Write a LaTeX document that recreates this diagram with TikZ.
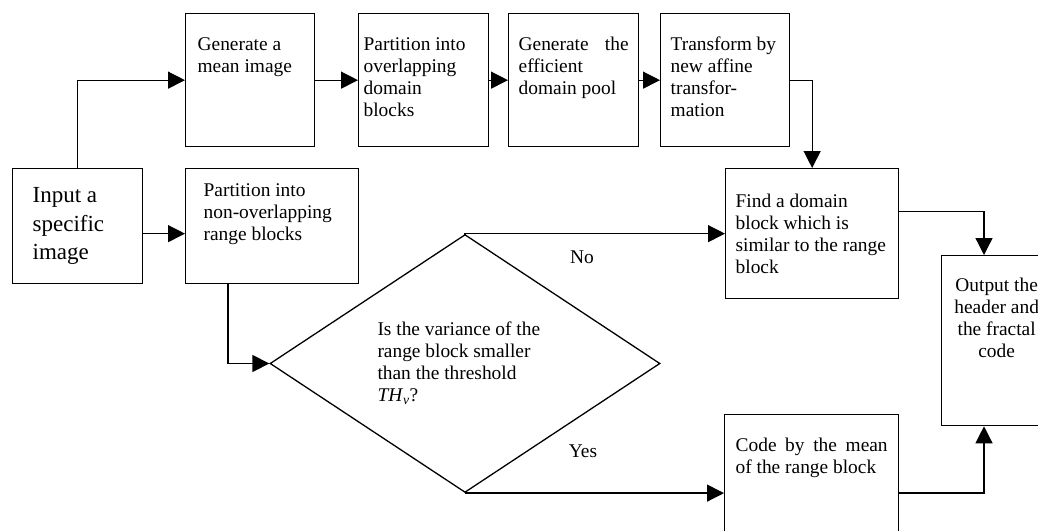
\documentclass[tikz,border=0pt]{standalone}
\usepackage{fontspec}
\setmainfont{Liberation Serif}
\usetikzlibrary{arrows.meta,shapes.geometric}
\newcommand{\boxtxt}[5]{\parbox[t][#2pt][t]{#1pt}{\vspace*{#3pt}\leftskip=#4pt\rightskip=#4pt #5}}
\tikzset{blk/.style={draw, anchor=north west, inner sep=0pt, align=left}}
\begin{document}
\begin{tikzpicture}[x=1pt, y=-1pt, font={\fontsize{19.4}{22}\selectfont}, line width=1.3pt, line join=miter, >={Triangle[length=17pt,width=17pt]}]
\useasboundingbox (0,0) rectangle (1038,530);
\clip (0,0) rectangle (1038,530);
\node[blk] (input) at (12,168) {\boxtxt{130}{115}{19}{20}{\fontsize{23}{28.5}\selectfont Input a\\specific\\image}};
\node[blk] (meanimg) at (185,13) {\boxtxt{129}{133}{24}{12}{Generate a\\mean image}};
\node[blk] (domblk) at (358,13) {\boxtxt{130}{133}{24}{5}{Partition into\\overlapping\\domain\\blocks}};
\node[blk] (pool) at (508,13) {\boxtxt{130}{133}{23}{10}{Generate\hfill the\\efficient\\domain pool}};
\node[blk] (affine) at (660,13) {\boxtxt{129}{133}{23}{10}{Transform by\\new affine\\transfor-\\mation}};
\node[blk] (rngblk) at (185,168) {\boxtxt{173}{115}{15}{18}{Partition into\\non-overlapping\\range blocks}};
\node[blk] (find) at (725,168) {\boxtxt{173}{130}{25}{10}{Find a domain\\block which is\\similar to the range\\block}};
\node[blk] (output) at (941,255) {\boxtxt{110}{170}{22}{0}{\centering Output the\\header and\\the fractal\\code}};
\node[blk] (code) at (724,414) {\boxtxt{174}{140}{23}{11}{Code\hfill by\hfill the\hfill mean\\of the range block}};
\node[draw, diamond, minimum width=390pt, minimum height=215pt, inner sep=0pt] (test) at (465,363.5)
{\parbox{175pt}{Is the variance of the\\range block smaller\\than the threshold\\\textit{TH}\textsubscript{\textit{v}}?}};
\node (no) at (582,257) {No};
\node (yes) at (583,451) {Yes};
\draw[->] (input.north) |- (meanimg.west);
\draw[->] (meanimg.east) -- (domblk.west);
\draw[->] (domblk.east) -- (pool.west);
\draw[->] (pool.east) -- (affine.west);
\draw[->] (affine.east) -| (find.north);
\draw[->] ([yshift=-7.5pt]input.east) -- ([yshift=-7.5pt]input.east -| rngblk.west);
\draw[->] ([xshift=43pt]rngblk.south west) |- (test.west);
\draw[->] (test.north) |- (find.west);
\draw[->] (test.south) -- (test.south -| code.west);
\draw[->] ([yshift=22pt]find.east) -| ([xshift=43pt]output.north west);
\draw[->] (code.east |- test.south) -| ([xshift=43pt]output.south west);
\end{tikzpicture}
\end{document}
